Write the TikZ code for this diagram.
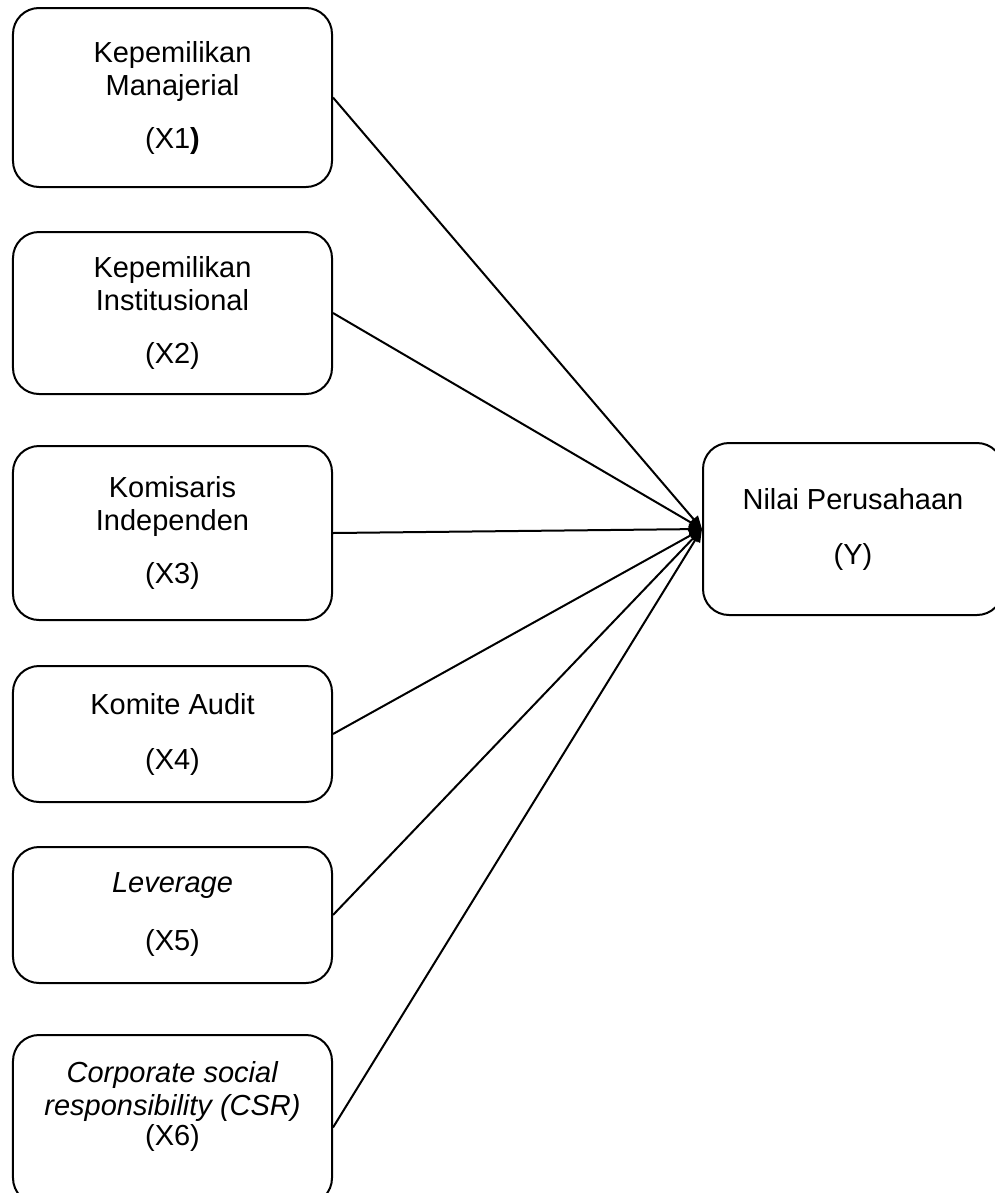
\documentclass[tikz,border=0pt]{standalone}
\usepackage{fontspec}
\setmainfont{Liberation Sans}
\usetikzlibrary{arrows.meta}
\begin{document}
\begin{tikzpicture}[x=1bp,y=-1bp,
  box/.style={draw, line width=2bp, rounded corners=26bp, minimum width=319bp,
    inner sep=0pt, align=center, font=\fontsize{29bp}{33bp}\selectfont},
  link/.style={line width=2bp, -{Triangle[length=13bp,width=11bp]}}]
\useasboundingbox (0,0) rectangle (995,1193);
\node[box, minimum height=179bp] (b1) at (172.5,97.5)
  {Kepemilikan\\Manajerial\\[20bp](X1\textbf{)}};
\node[box, minimum height=162bp] (b2) at (172.5,313)
  {Kepemilikan\\Institusional\\[20bp](X2)};
\node[box, minimum height=174bp] (b3) at (172.5,533)
  {Komisaris\\Independen\\[20bp](X3)};
\node[box, minimum height=136bp] (b4) at (172.5,734)
  {Komite Audit\\[22bp](X4)};
\node[box, minimum height=136bp] (b5) at (172.5,915)
  {\textit{Leverage}\\[25bp](X5)};
\node[box, minimum height=169bp] (b6) at (172.5,1119.5)
  {\textit{Corporate social}\\\textit{responsibility (CSR)}\\[-3bp](X6)\\\rule{0pt}{24bp}};
\node[box, minimum width=300bp, minimum height=172bp] (y) at (853,529)
  {Nilai Perusahaan\\[22bp](Y)};
\draw[link] (b1.east) -- (y.west);
\draw[link] (b2.east) -- (y.west);
\draw[link] (b3.east) -- (y.west);
\draw[link] (b4.east) -- (y.west);
\draw[link] (b5.east) -- (y.west);
\draw[link] ([yshift=-8bp]b6.east) -- (y.west);
\end{tikzpicture}
\end{document}
